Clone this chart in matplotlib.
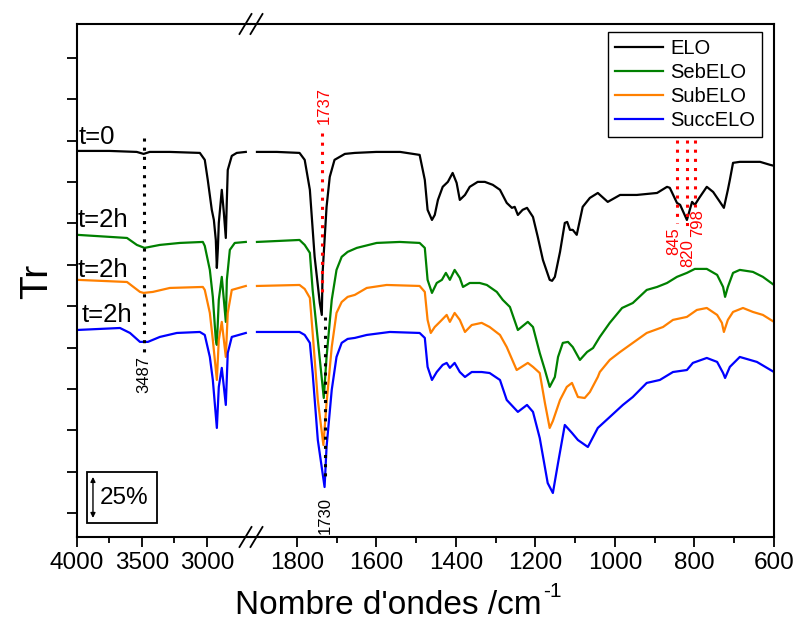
"""FTIR spectra of ELO and its cross-linked derivatives, split wavenumber axis."""
import matplotlib
matplotlib.use("Agg")
import matplotlib.pyplot as plt
from matplotlib.lines import Line2D
from matplotlib.patches import Rectangle
from matplotlib.transforms import offset_copy

plt.rcParams["font.family"] = ["Liberation Sans", "DejaVu Sans"]

# --- Data: (wavenumber cm-1, offset transmittance %) ---
# high-wavenumber window (4000 - 2700)
elo_high = [(4000, 218.8), (3750, 218.8), (3540, 218.2), (3487, 217.0), (3440, 218.2),
            (3285, 218.2), (3054, 217.6), (3016, 213.4), (2993, 201.3), (2962, 183.2),
            (2946, 177.1), (2931, 165.0), (2923, 148.1), (2915, 160.0), (2908, 175.3),
            (2885, 195.3), (2869, 181.4), (2854, 166.2), (2846, 189.2), (2839, 207.3),
            (2808, 215.8), (2770, 217.6), (2700, 218.2)]
seb_high = [(4000, 168.1), (3615, 166.2), (3539, 162.0), (3480, 160.2), (3362, 162.0),
            (3208, 163.2), (3031, 163.8), (3016, 161.4), (2977, 146.9), (2954, 130.6),
            (2931, 104.6), (2923, 101.6), (2908, 128.8), (2885, 142.7), (2869, 128.8),
            (2854, 115.5), (2846, 140.9), (2823, 159.0), (2785, 163.2), (2700, 163.8)]
sub_high = [(4000, 140.9), (3615, 139.6), (3515, 133.6), (3487, 133.0), (3416, 133.6),
            (3285, 136.0), (3031, 136.6), (3016, 134.8), (2977, 120.9), (2954, 104.6),
            (2923, 80.4), (2908, 104.6), (2885, 115.5), (2869, 104.6), (2854, 94.3),
            (2839, 120.9), (2808, 134.8), (2700, 137.2)]
succ_high = [(4000, 110.6), (3669, 111.8), (3592, 108.8), (3515, 103.4), (3454, 103.4),
             (3362, 106.4), (3231, 108.8), (3054, 109.4), (3016, 107.6), (2977, 94.3),
             (2954, 80.4), (2923, 51.4), (2908, 76.2), (2885, 87.7), (2869, 76.2),
             (2854, 65.3), (2839, 96.7), (2808, 106.4), (2700, 108.8)]

# fingerprint window (1900 - 600)
elo_low = [(1900, 218.2), (1850, 218.2), (1793, 217.6), (1780, 213.4), (1767, 195.3),
           (1755, 154.8), (1742, 126.9), (1737, 119.7), (1735, 145.1), (1725, 185.0),
           (1717, 203.1), (1705, 213.4), (1679, 217.0), (1654, 217.6), (1600, 218.2),
           (1540, 218.2), (1491, 216.4), (1478, 201.3), (1471, 183.2), (1460, 177.1),
           (1453, 180.1), (1445, 189.2), (1433, 197.1), (1420, 200.1), (1408, 205.5),
           (1398, 199.5), (1390, 189.2), (1377, 192.2), (1365, 197.1), (1345, 200.1),
           (1327, 200.1), (1307, 198.3), (1289, 195.3), (1272, 187.4), (1259, 184.4),
           (1252, 185.0), (1244, 180.1), (1232, 183.2), (1221, 184.4), (1206, 178.9),
           (1194, 166.9), (1181, 152.9), (1164, 140.9), (1158, 140.3), (1151, 142.7),
           (1138, 157.8), (1126, 175.3), (1120, 175.9), (1113, 171.1), (1106, 171.1),
           (1096, 168.1), (1081, 185.0), (1063, 190.4), (1043, 193.4), (1018, 188.0),
           (987, 192.2), (945, 192.2), (894, 193.4), (869, 197.1), (862, 196.5),
           (844, 187.4), (836, 186.2), (819, 177.1), (806, 188.0), (799, 186.2),
           (788, 190.4), (769, 197.1), (753, 194.0), (736, 188.0), (726, 184.4),
           (716, 195.3), (711, 201.3), (703, 211.6), (686, 212.2), (635, 212.2),
           (610, 210.4), (600, 209.8)]
seb_low = [(1900, 163.8), (1793, 165.0), (1780, 162.0), (1767, 157.2), (1760, 134.8),
           (1747, 104.6), (1732, 69.5), (1725, 94.3), (1712, 128.8), (1700, 146.9),
           (1687, 154.8), (1672, 157.8), (1649, 160.2), (1599, 163.2), (1541, 163.8),
           (1491, 163.2), (1478, 160.2), (1471, 140.9), (1460, 133.0), (1448, 139.0),
           (1435, 140.9), (1425, 145.1), (1415, 140.9), (1403, 146.9), (1390, 142.1),
           (1382, 136.6), (1365, 139.0), (1340, 139.0), (1322, 137.8), (1297, 133.6),
           (1282, 128.8), (1264, 124.5), (1244, 110.6), (1219, 115.5), (1206, 112.4),
           (1189, 96.7), (1176, 86.4), (1164, 76.2), (1151, 82.2), (1143, 94.3),
           (1131, 102.8), (1118, 103.4), (1106, 100.3), (1088, 92.5), (1070, 97.3),
           (1055, 99.7), (1038, 106.4), (1013, 114.9), (982, 123.9), (955, 126.9),
           (920, 134.8), (894, 136.6), (869, 139.0), (844, 142.7), (819, 145.1),
           (799, 147.5), (769, 147.5), (743, 143.9), (728, 136.6), (723, 130.6),
           (716, 136.6), (703, 145.1), (686, 146.9), (653, 145.7), (628, 142.7),
           (600, 137.8)]
sub_low = [(1900, 137.2), (1793, 137.8), (1780, 135.4), (1767, 130.0), (1760, 108.8),
           (1747, 68.3), (1733, 41.1), (1725, 66.5), (1712, 100.3), (1700, 120.9),
           (1687, 127.5), (1672, 130.6), (1654, 131.8), (1624, 136.0), (1574, 137.8),
           (1491, 137.2), (1478, 133.6), (1471, 116.7), (1463, 108.8), (1453, 112.4),
           (1440, 115.5), (1423, 119.7), (1415, 115.5), (1403, 120.9), (1390, 116.7),
           (1377, 109.4), (1360, 113.6), (1335, 114.9), (1315, 112.4), (1289, 107.6),
           (1272, 100.3), (1247, 86.4), (1219, 90.7), (1206, 88.3), (1189, 84.6),
           (1176, 66.5), (1164, 51.4), (1156, 55.6), (1138, 68.3), (1121, 76.2),
           (1108, 78.6), (1093, 70.1), (1076, 69.5), (1063, 73.1), (1043, 82.2),
           (1038, 85.2), (1013, 92.5), (987, 97.3), (955, 102.8), (920, 108.8),
           (879, 112.4), (854, 116.7), (819, 118.5), (794, 122.7), (769, 123.9),
           (743, 119.7), (731, 114.9), (726, 109.4), (716, 116.7), (703, 121.5),
           (678, 123.9), (653, 121.5), (628, 119.7), (600, 115.5)]
succ_low = [(1900, 109.4), (1793, 109.4), (1780, 107.6), (1767, 102.8), (1760, 84.6),
            (1747, 44.1), (1730, 15.7), (1725, 39.9), (1712, 74.4), (1700, 94.3),
            (1687, 102.8), (1672, 105.2), (1654, 105.8), (1624, 107.6), (1566, 109.4),
            (1491, 108.8), (1478, 105.8), (1471, 88.3), (1460, 80.4), (1448, 85.2),
            (1433, 89.5), (1423, 90.7), (1415, 87.7), (1403, 90.7), (1390, 85.2),
            (1377, 82.2), (1360, 85.2), (1335, 85.2), (1315, 84.6), (1289, 80.4),
            (1272, 68.3), (1244, 61.1), (1221, 65.3), (1206, 61.1), (1189, 45.3),
            (1169, 18.1), (1156, 12.1), (1143, 30.2), (1126, 53.2), (1108, 48.4),
            (1093, 44.1), (1068, 39.9), (1043, 51.4), (1013, 58.0), (980, 65.3),
            (955, 70.1), (920, 78.6), (887, 80.4), (854, 85.2), (819, 86.4),
            (804, 90.7), (769, 93.7), (743, 91.3), (728, 84.6), (723, 81.6),
            (711, 88.3), (686, 94.3), (643, 91.3), (600, 85.2)]

series_names = ["ELO", "SebELO", "SubELO", "SuccELO"]
series_colors = ["black", "#008000", "#ff8000", "#0000ff"]
high_parts = [elo_high, seb_high, sub_high, succ_high]
low_parts = [elo_low, seb_low, sub_low, succ_low]

# time labels: (text, wavenumber, baseline y)
time_labels = [("t=0", 3985, 223.1), ("t=2h", 3995, 172.9),
               ("t=2h", 3995, 142.7), ("t=2h", 3965, 115.5)]

# marked bands: (wavenumber, y top, y bottom, colour, label, label y)
high_bands = [(3487, 226.7, 97.3, "black", "3487", 83.4)]
low_bands = [(1737, 229.7, 133.6, "red", "1737", 246.0),
             (1730, 118.5, 18.7, "black", "1730", -1.8),
             (845, 225.5, 175.3, "red", "845", 164.4),
             (820, 225.5, 171.1, "red", "820", 157.2),
             (798, 225.5, 185.0, "red", "798", 175.3)]
band_label_x = {"3487": 3485, "1737": 1730, "1730": 1729,
                "845": 852, "820": 816, "798": 791}

W, H = 796, 623
fig = plt.figure(figsize=(W / 100, H / 100), dpi=100)
ax1 = fig.add_axes([77 / W, 86 / H, 174 / W, 513 / H])
ax2 = fig.add_axes([251 / W, 86 / H, 523 / W, 513 / H], sharey=ax1)

for ax, parts in ((ax1, high_parts), (ax2, low_parts)):
    for part, color, name in zip(parts, series_colors, series_names):
        wn = [p[0] for p in part]
        tr = [p[1] for p in part]
        ax.plot(wn, tr, color=color, lw=1.6, label=name, solid_joinstyle="round")

dots = (0, (1, 2))
for ax, bands in ((ax1, high_bands), (ax2, low_bands)):
    for wn, y0, y1, color, label, ly in bands:
        ax.plot([wn, wn], [y0, y1], color=color, lw=2.2, ls=dots)
        ax.text(band_label_x[label], ly, label, color=color, rotation=90,
                ha="center", va="center", fontsize=12)

for text, wn, y in time_labels:
    ax1.text(wn, y, text, fontsize=18.5, ha="left", va="baseline")

ax1.set_xlim(4000, 2660)
ax2.set_xlim(1915, 600)
ax1.set_ylim(-14.5, 295.5)

ax1.set_xticks([4000, 3500, 3000])
ax1.set_xticks([3750, 3250], minor=True)
ax2.set_xticks(list(range(1800, 599, -200)))
ax2.set_xticks(list(range(1700, 600, -200)), minor=True)
ax1.set_yticks(list(range(0, 276, 25)))

for ax in (ax1, ax2):
    for sp in ax.spines.values():
        sp.set_linewidth(1.5)
    ax.tick_params(axis="x", which="major", direction="out", length=7, width=1.3,
                   labelsize=17.5, pad=4)
    ax.tick_params(axis="x", which="minor", direction="out", length=4, width=1.3)
ax1.spines["right"].set_visible(False)
ax2.spines["left"].set_visible(False)
ax1.tick_params(axis="y", direction="out", length=7, width=1.3, labelleft=False)
ax2.tick_params(axis="y", left=False, labelleft=False)

# axis-break marks on top and bottom spines
xb = 251
for yb in (24, 537):
    for dx in (-5.5, 5.5):
        fig.add_artist(Line2D([(xb + dx - 6) / W, (xb + dx + 6) / W],
                              [1 - (yb + 10) / H, 1 - (yb - 10) / H],
                              color="black", lw=1.3, transform=fig.transFigure))

# 25 % scale bar
ax1.add_patch(Rectangle((3923, -6.0), 3385 - 3923, 30.8, fill=False,
                        edgecolor="black", lw=1.3))
ax1.annotate("", xy=(3877, -3.0), xytext=(3877, 21.8),
             arrowprops=dict(arrowstyle="<|-|>", color="black", lw=1.0,
                             mutation_scale=7, shrinkA=0, shrinkB=0))
ax1.text(3823, 9.1, "25%", fontsize=17.5, ha="left", va="center")

leg = ax2.legend(loc="upper right", bbox_to_anchor=(762 / W, 1 - 32 / H),
                 bbox_transform=fig.transFigure, fontsize=14.5, frameon=True,
                 fancybox=False, edgecolor="black", framealpha=1,
                 handlelength=2.4, handletextpad=0.35, labelspacing=0.25,
                 borderpad=0.35, borderaxespad=0)
leg.get_frame().set_linewidth(1.0)

# x label with a plain-hyphen superscript
xlab = fig.text(388 / W, 1 - 614 / H, "Nombre d'ondes /cm", fontsize=24,
                ha="center", va="baseline")
fig.canvas.draw()
bb = xlab.get_window_extent()
fig.text(bb.x1 / W, 1 - 614 / H, "-1",
         transform=offset_copy(fig.transFigure, fig=fig, x=1, y=12, units="points"),
         fontsize=15, ha="left", va="baseline")
fig.text(37 / W, 1 - 281 / H, "Tr", fontsize=28, rotation=90,
         ha="center", va="center")

fig.savefig("out.png", dpi=100)
